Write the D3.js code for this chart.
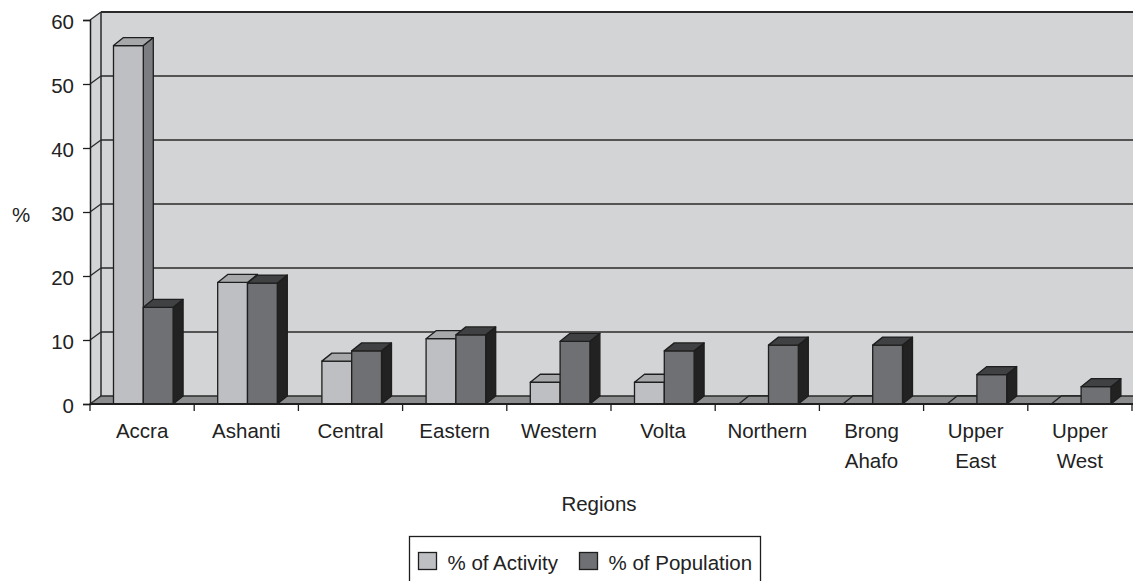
<!DOCTYPE html>
<html><head><meta charset="utf-8">
<script src="https://cdn.jsdelivr.net/npm/d3@7"></script>
<style>
html,body{margin:0;padding:0;background:#fff;}
text{font-family:"Liberation Sans",Arial,sans-serif;fill:#222;}
</style></head>
<body>
<svg id="c" width="1133" height="581"></svg>
<script>
const categories = ["Accra","Ashanti","Central","Eastern","Western","Volta","Northern","Brong Ahafo","Upper East","Upper West"];
const categoryLines = [["Accra"],["Ashanti"],["Central"],["Eastern"],["Western"],["Volta"],["Northern"],["Brong","Ahafo"],["Upper","East"],["Upper","West"]];
const seriesNames = ["% of Activity","% of Population"];
const activity = [56, 19, 6.7, 10.2, 3.4, 3.4, 0, 0, 0, 0];
const population = [15.1, 18.9, 8.3, 10.8, 9.8, 8.3, 9.2, 9.2, 4.6, 2.7];
const yTicks = [0,10,20,30,40,50,60];

const svg = d3.select("#c");
const W = 1133;
const left = 90, right = 1132, y0 = 404, yTop = 20;
const DX = 11, DY = -8;     // wall depth
const BDX = 10, BDY = -8;   // bar depth
const FS = 20.5;

const y = d3.scaleLinear().domain([0,60]).range([y0, yTop]);
const x = d3.scaleBand().domain(categories).range([left, right]).padding(0);
const bw = x.bandwidth();
const xs = d3.scaleBand().domain(seriesNames).range([bw*0.2255, bw*0.7975]).padding(0);

const colors = {
  "% of Activity": {front:"#bebfc2", top:"#a7a8aa", side:"#7c7d80"},
  "% of Population": {front:"#6f7073", top:"#404143", side:"#222223"}
};
const stroke = "#1e1e1e";

// back wall
svg.append("rect").attr("x", left+DX).attr("y", y(60)+DY)
  .attr("width", right - left).attr("height", y(0)-y(60))
  .attr("fill","#d3d4d6");
// side wall
svg.append("polygon")
  .attr("points", [[left,y(60)],[left+DX,y(60)+DY],[left+DX,y(0)+DY],[left,y(0)]].map(p=>p.join(",")).join(" "))
  .attr("fill","#d3d4d6");
// gridlines
yTicks.forEach(t=>{
  if(t===0) return;
  svg.append("line").attr("x1",left+DX).attr("x2",W+20)
    .attr("y1",y(t)+DY).attr("y2",y(t)+DY)
    .attr("stroke","#2a2a2a").attr("stroke-width", t===60?2.2:1.3);
  svg.append("line").attr("x1",left).attr("x2",left+DX)
    .attr("y1",y(t)).attr("y2",y(t)+DY)
    .attr("stroke","#2a2a2a").attr("stroke-width",1.3);
});
// back wall left edge
svg.append("line").attr("x1",left+DX).attr("x2",left+DX)
  .attr("y1",y(60)+DY).attr("y2",y(0)+DY).attr("stroke","#2a2a2a").attr("stroke-width",1.5);
// floor
svg.append("polygon")
  .attr("points", [[left,y(0)],[left+DX,y(0)+DY],[W+20,y(0)+DY],[W+20,y(0)]].map(p=>p.join(",")).join(" "))
  .attr("fill","#8b8c8e").attr("stroke","#2a2a2a").attr("stroke-width",1.3);

// bars
const series = [
  {name:"% of Activity", values:activity},
  {name:"% of Population", values:population}
];
const bars = svg.append("g");
categories.forEach((c,i)=>{
  series.forEach(s=>{
    const v = s.values[i];
    const x0 = x(c) + xs(s.name), x1 = x0 + xs.bandwidth();
    const yt = y(v), yb = y(0);
    const col = colors[s.name];
    const g = bars.append("g").attr("stroke",stroke).attr("stroke-width",1.3).attr("stroke-linejoin","round");
    if(v>0){
      g.append("polygon").attr("points",[[x1,yt],[x1+BDX,yt+BDY],[x1+BDX,yb+BDY],[x1,yb]].map(p=>p.join(",")).join(" ")).attr("fill",col.side);
      g.append("rect").attr("x",x0).attr("y",yt).attr("width",x1-x0).attr("height",yb-yt).attr("fill",col.front);
    }
    g.append("polygon").attr("points",[[x0,yt],[x0+BDX,yt+BDY],[x1+BDX,yt+BDY],[x1,yt]].map(p=>p.join(",")).join(" ")).attr("fill",v>0?col.top:"#8b8c8e");
  });
});

// y axis
const yAxis = d3.axisLeft(y).tickValues(yTicks).tickSize(7).tickPadding(9);
const ya = svg.append("g").attr("transform",`translate(${left},0)`).call(yAxis);
ya.select(".domain").attr("stroke","#1e1e1e").attr("stroke-width",1.5);
ya.selectAll(".tick line").attr("stroke","#1e1e1e").attr("stroke-width",1.3);
ya.selectAll(".tick text").attr("font-size",FS).attr("dy","0.62em").attr("y",-4)
  .style("font-family","'Liberation Sans',Arial,sans-serif").attr("fill","#222");

// x axis
const xa = svg.append("g").attr("transform",`translate(0,${y0})`);
xa.append("line").attr("x1",left).attr("x2",W).attr("y1",0).attr("y2",0).attr("stroke","#1e1e1e").attr("stroke-width",2);
categories.concat([null]).forEach((c,i)=>{
  const xp = c===null ? right : x(c);
  xa.append("line").attr("x1",xp).attr("x2",xp).attr("y1",0).attr("y2",7).attr("stroke","#1e1e1e").attr("stroke-width",1.3);
});
categories.forEach((c,i)=>{
  const t = xa.append("text").attr("text-anchor","middle").attr("font-size",FS)
    .attr("x", x(c)+bw/2).attr("y", 34);
  categoryLines[i].forEach((ln,j)=>{
    t.append("tspan").attr("x", x(c)+bw/2).attr("y", 34 + j*29.5).text(ln);
  });
});

// axis titles
svg.append("text").attr("x",21).attr("y",222).attr("text-anchor","middle").attr("font-size",FS).text("%");
svg.append("text").attr("x",599).attr("y",511).attr("text-anchor","middle").attr("font-size",FS).text("Regions");

// legend
const lg = svg.append("g");
lg.append("rect").attr("x",409.5).attr("y",536.5).attr("width",351).attr("height",60)
  .attr("fill","#fff").attr("stroke","#1e1e1e").attr("stroke-width",1.3);
const legX = [418.5, 579.5];
seriesNames.forEach((n,i)=>{
  lg.append("rect").attr("x",legX[i]).attr("y",552.5).attr("width",18).attr("height",17)
    .attr("fill",colors[n].front).attr("stroke","#1e1e1e").attr("stroke-width",1.3);
  lg.append("text").attr("x",legX[i]+29).attr("y",570).attr("font-size",FS).text(n);
});
</script>
</body></html>
